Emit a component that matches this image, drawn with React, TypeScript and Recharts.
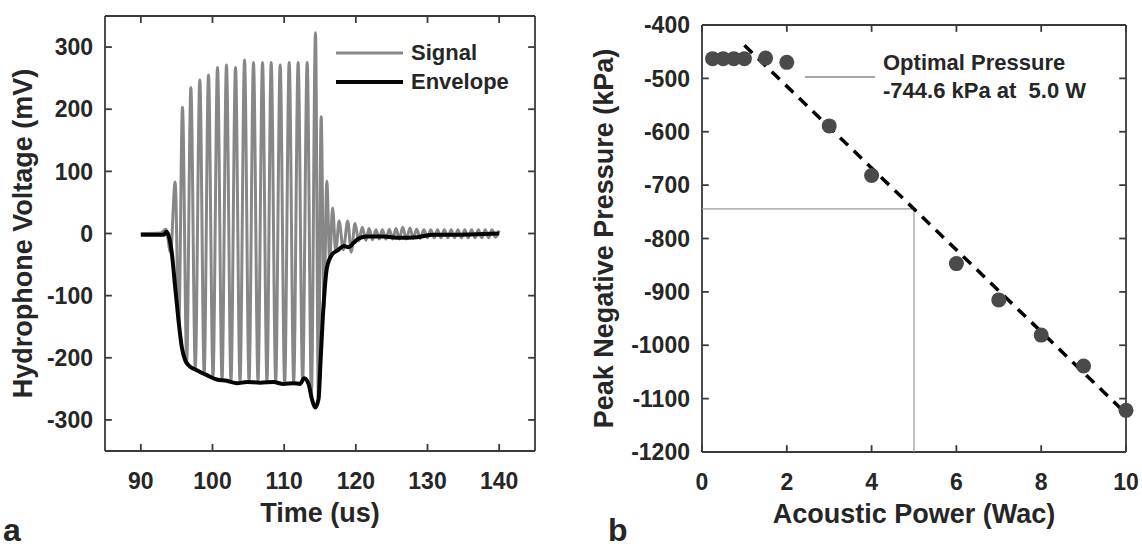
import React from "react";
import {
  ComposedChart,
  Line,
  Scatter,
  XAxis,
  YAxis,
  ReferenceLine,
  Legend,
} from "recharts";

const FONT = "'Liberation Sans', Arial, sans-serif";
const INK = "#262626";
const FRAME = "#3a3a3a";

// ---- panel a: hydrophone trace ----
const signalTime = [
  90.0, 92.8, 93.5, 94.15, 94.79, 95.3, 95.81, 96.4, 96.98, 97.6, 98.23, 98.84, 99.44,
  100.07, 100.7, 101.33, 101.95, 102.58, 103.21, 103.84, 104.47, 105.1, 105.72, 106.35,
  106.98, 107.6, 108.19, 108.82, 109.44, 110.07, 110.7, 111.33, 111.95, 112.58, 113.21,
  113.8, 114.37, 114.78, 115.16, 115.56, 115.95, 116.35, 116.76, 117.2, 117.66, 118.25,
  118.87, 119.35, 119.89, 120.4, 120.91, 121.4, 121.84, 122.33, 122.82, 123.26, 123.7,
  124.2, 124.67, 125.15, 125.6, 126.07, 126.54, 127.05, 127.56, 128.0, 128.49, 129.0,
  129.5, 130.0, 130.44, 130.95, 131.4, 131.88, 132.35, 132.83, 133.3, 133.78, 134.25,
  134.73, 135.2, 135.68, 136.15, 136.63, 137.1, 137.58, 138.05, 138.53, 139.0, 139.48, 140.0,
];
const signalMv = [
  0, 1, 7, -30, 83, -148, 203, -205, 235, -216, 247, -224, 255,
  -230, 267, -234, 271, -236, 267, -238, 279, -237, 275, -237,
  275, -237, 275, -238, 271, -240, 275, -239, 275, -236, 275,
  -258, 323, -268, 188, -120, 84, -42, 41, -30, 20, -26,
  20, -30, 16, -12, 10, -11, 8, -10, 6, -9, 6,
  -9, 7, -9, 8, -9, 10, -9, 9, -8, 7, -8,
  6, -7, 6, -7, 6, -7, 6, -7, 6, -7, 6,
  -7, 6, -7, 6, -7, 6, -7, 6, -7, 6, -6, 5,
];
const envelopeTime = [
  90, 93.2, 93.55, 93.9, 94.33, 94.79, 95.26, 95.72, 96.19, 96.65, 97.81, 99.21, 100.6,
  102.0, 103.4, 104.8, 106.65, 108.5, 109.9, 111.3, 112.2, 112.8, 113.4, 113.86, 114.33,
  114.8, 115.1, 115.5, 115.97, 116.67, 117.6, 118.3, 119.0, 119.7, 120.4, 121.5, 123.8,
  126.2, 128.5, 130.8, 133.1, 140,
];
const envelopeMv = [
  -2, -2, 3, -4, -32, -86, -140, -183, -204, -212, -220, -228, -235,
  -237, -241, -239, -240, -239, -242, -241, -242, -233, -242, -266, -280,
  -266, -200, -115, -55, -34, -26, -20, -22, -15, -8, -5, -5,
  -7, -6, -2, -2, 0,
];
const timeDomain = [85, 145];
const voltDomain = [-350, 350];
const timeTicks = [90, 100, 110, 120, 130, 140];
const voltTicks = [-300, -200, -100, 0, 100, 200, 300];
const traceNames = ["Signal", "Envelope"];

// ---- panel b: pressure vs power ----
const powerW = [0.25, 0.5, 0.75, 1, 1.5, 2, 3, 4, 6, 7, 8, 9, 10];
const pressureKpa = [-463, -463, -463, -463, -462, -470, -589, -682, -847, -915, -981, -1039, -1122];
const fitPower = [1, 10];
const fitPressure = [-438, -1128];
const optimalPower = 5.0;
const optimalPressure = -744.6;
const powerDomain = [0, 10];
const pressureDomain = [-1200, -400];
const powerTicks = [0, 2, 4, 6, 8, 10];
const pressureTicks = [-1200, -1100, -1000, -900, -800, -700, -600, -500, -400];

const signalData = signalTime.map((t, i) => ({ t, v: signalMv[i] }));
const envelopeData = envelopeTime.map((t, i) => ({ t, v: envelopeMv[i] }));
const pointData = powerW.map((x, i) => ({ x, y: pressureKpa[i] }));
const fitData = fitPower.map((x, i) => ({ x, y: fitPressure[i] }));

const tickFont = { fill: INK, fontSize: 23, fontWeight: 700, fontFamily: FONT };
const labelStyle = { fill: INK, fontSize: 27, fontWeight: 700, fontFamily: FONT };

// MATLAB-style box with inward ticks on all four sides, built from reference segments
const TICK_FRAC = 0.016;
const frameLines = (xd: number[], yd: number[], xt: number[], yt: number[]) => {
  const [x0, x1] = xd;
  const [y0, y1] = yd;
  const dx = (x1 - x0) * TICK_FRAC;
  const dy = (y1 - y0) * TICK_FRAC;
  const segs: { x: number; y: number }[][] = [
    [{ x: x0, y: y0 }, { x: x1, y: y0 }],
    [{ x: x0, y: y1 }, { x: x1, y: y1 }],
    [{ x: x0, y: y0 }, { x: x0, y: y1 }],
    [{ x: x1, y: y0 }, { x: x1, y: y1 }],
  ];
  xt.forEach((x) => {
    segs.push([{ x, y: y0 }, { x, y: y0 + dy }]);
    segs.push([{ x, y: y1 }, { x, y: y1 - dy }]);
  });
  yt.forEach((y) => {
    segs.push([{ x: x0, y }, { x: x0 + dx, y }]);
    segs.push([{ x: x1, y }, { x: x1 - dx, y }]);
  });
  return segs.map((s, i) => (
    <ReferenceLine key={`f${i}`} segment={s} stroke={FRAME} strokeWidth={1.8} ifOverflow="visible" />
  ));
};

const legendRow: React.CSSProperties = {
  display: "flex",
  alignItems: "center",
  height: 28.4,
};

const SignalLegend = (props: any) => {
  const widths: Record<string, number> = { Signal: 3, Envelope: 4 };
  const items = [...(props.payload || [])].sort(
    (a: any, b: any) => traceNames.indexOf(a.value) - traceNames.indexOf(b.value)
  );
  return (
    <div style={{ fontFamily: FONT, fontWeight: 700, fontSize: 22, color: INK }}>
      {items.map((p: any) => (
        <div key={p.value} style={legendRow}>
          <svg width={67} height={10} style={{ marginRight: 8 }}>
            <line x1={0} y1={5} x2={67} y2={5} stroke={p.color} strokeWidth={widths[p.value] || 3} />
          </svg>
          <span>{p.value}</span>
        </div>
      ))}
    </div>
  );
};

const OptimalLegend = () => (
  <div style={{ display: "flex", alignItems: "center", fontFamily: FONT, fontWeight: 700, fontSize: 22, color: INK }}>
    <svg width={70} height={10} style={{ marginRight: 8 }}>
      <line x1={0} y1={5} x2={70} y2={5} stroke="#a6a6a6" strokeWidth={2} />
    </svg>
    <div style={{ lineHeight: "28px", whiteSpace: "pre" }}>
      <div>Optimal Pressure</div>
      <div>{`${optimalPressure.toFixed(1)} kPa at  ${optimalPower.toFixed(1)} W`}</div>
    </div>
  </div>
);

const PanelA = () => (
  <ComposedChart width={560} height={551} margin={{ top: 16, right: 25, bottom: 40, left: 0 }}>
    <XAxis
      type="number"
      dataKey="t"
      domain={timeDomain}
      ticks={timeTicks}
      interval={0}
      height={60}
      tick={tickFont}
      tickSize={0}
      tickMargin={22}
      tickLine={false}
      axisLine={false}
      label={{ value: "Time (us)", position: "center", dy: 31, ...labelStyle }}
    />
    <YAxis
      type="number"
      domain={voltDomain}
      ticks={voltTicks}
      interval={0}
      width={105}
      tick={tickFont}
      tickSize={0}
      tickMargin={12}
      tickLine={false}
      axisLine={false}
      label={{ value: "Hydrophone Voltage (mV)", angle: -90, position: "center", dx: -30, ...labelStyle }}
    />
    {frameLines(timeDomain, voltDomain, timeTicks, voltTicks)}
    <Legend
      layout="vertical"
      align="center"
      verticalAlign="middle"
      content={SignalLegend}
      wrapperStyle={{ left: 336, top: 39, width: "auto" }}
    />
    <Line data={signalData} dataKey="v" name="Signal" type="monotone" stroke="#878787" strokeWidth={3}
      dot={false} activeDot={false} isAnimationActive={false} />
    <Line data={envelopeData} dataKey="v" name="Envelope" type="monotone" stroke="#050505" strokeWidth={4}
      dot={false} activeDot={false} isAnimationActive={false} />
  </ComposedChart>
);

const PanelB = () => (
  <ComposedChart width={562} height={551} margin={{ top: 25, right: 16, bottom: 39, left: 0 }}>
    <XAxis
      type="number"
      dataKey="x"
      domain={powerDomain}
      ticks={powerTicks}
      interval={0}
      height={60}
      tick={tickFont}
      tickSize={0}
      tickMargin={22}
      tickLine={false}
      axisLine={false}
      label={{ value: "Acoustic Power (Wac)", position: "center", dy: 31, ...labelStyle }}
    />
    <YAxis
      type="number"
      dataKey="y"
      domain={pressureDomain}
      ticks={pressureTicks}
      interval={0}
      width={122}
      tick={tickFont}
      tickSize={0}
      tickMargin={12}
      tickLine={false}
      axisLine={false}
      label={{ value: "Peak Negative Pressure (kPa)", angle: -90, position: "center", dx: -38, ...labelStyle }}
    />
    {frameLines(powerDomain, pressureDomain, powerTicks, pressureTicks)}
    <ReferenceLine
      segment={[{ x: 0, y: optimalPressure }, { x: optimalPower, y: optimalPressure }]}
      stroke="#9a9a9a"
      strokeWidth={1.2}
    />
    <ReferenceLine
      segment={[{ x: optimalPower, y: pressureDomain[0] }, { x: optimalPower, y: optimalPressure }]}
      stroke="#9a9a9a"
      strokeWidth={1.2}
    />
    <Legend
      layout="vertical"
      align="center"
      verticalAlign="middle"
      content={OptimalLegend}
      wrapperStyle={{ left: 225, top: 49, width: "auto" }}
    />
    <Scatter
      data={pointData}
      dataKey="y"
      legendType="none"
      isAnimationActive={false}
      shape={(p: any) => <circle cx={p.cx} cy={p.cy} r={7.5} fill="#4a4a4a" />}
    />
    <Line data={fitData} dataKey="y" type="linear" stroke="#000" strokeWidth={3.5} strokeDasharray="11 8"
      dot={false} activeDot={false} legendType="none" isAnimationActive={false} />
  </ComposedChart>
);

const panelTag: React.CSSProperties = {
  position: "absolute",
  fontFamily: FONT,
  fontWeight: 700,
  fontSize: 32,
  lineHeight: 1,
  color: INK,
};

export default function App() {
  return (
    <div style={{ position: "absolute", left: 0, top: 0, width: 1142, height: 551, background: "#fff", overflow: "hidden" }}>
      <div style={{ position: "absolute", left: 0, top: 0 }}>
        <PanelA />
      </div>
      <div style={{ position: "absolute", left: 580, top: 0 }}>
        <PanelB />
      </div>
      <div style={{ ...panelTag, left: 3, top: 514 }}>a</div>
      <div style={{ ...panelTag, left: 608, top: 514 }}>b</div>
    </div>
  );
}
